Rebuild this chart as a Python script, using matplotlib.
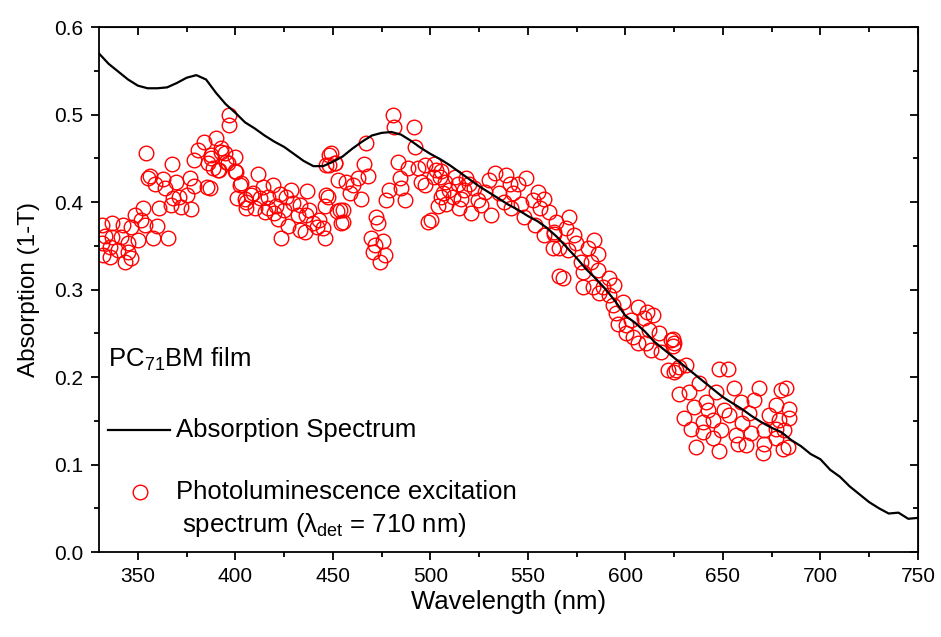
import numpy as np
import matplotlib.pyplot as plt
import matplotlib

matplotlib.rcParams['font.family'] = 'Liberation Sans'
matplotlib.rcParams['mathtext.fontset'] = 'custom'
matplotlib.rcParams['mathtext.rm'] = 'Liberation Sans'
matplotlib.rcParams['mathtext.it'] = 'Liberation Sans:italic'

# absorption spectrum (1-T), 5 nm steps
abs_wl = list(range(330, 751, 5))
abs_val = [0.570, 0.558, 0.549, 0.540, 0.533, 0.530, 0.530, 0.531, 0.536, 0.542,
           0.545, 0.540, 0.525, 0.512, 0.502, 0.491, 0.484, 0.476, 0.469, 0.463,
           0.455, 0.447, 0.441, 0.441, 0.446, 0.452, 0.461, 0.469, 0.476, 0.479,
           0.480, 0.477, 0.470, 0.462, 0.455, 0.449, 0.442, 0.434, 0.426, 0.418,
           0.411, 0.404, 0.397, 0.391, 0.384, 0.378, 0.370, 0.360, 0.348, 0.336,
           0.323, 0.312, 0.300, 0.286, 0.270, 0.262, 0.252, 0.240, 0.231, 0.222,
           0.213, 0.204, 0.195, 0.186, 0.177, 0.170, 0.163, 0.155, 0.148, 0.142,
           0.137, 0.128, 0.121, 0.112, 0.106, 0.094, 0.086, 0.075, 0.066, 0.057,
           0.050, 0.044, 0.045, 0.038, 0.039]

# photoluminescence excitation points
ple_wl = [331.4, 331.4, 332, 333, 335.6, 335.6, 336.7, 337, 339.7, 341.6, 342.3, 343.3,
          344.9, 344.9, 346.4, 346.7, 348.4, 350, 351.8, 352.5, 353.6, 354.4, 355, 356,
          357.7, 358.7, 360, 361, 362.8, 363.8, 365.3, 367, 367.4, 368, 369.8, 371, 372,
          375, 376.6, 377.5, 379, 379, 380.7, 384, 385.7, 385.8, 386.9, 387.7, 387.7,
          388.4, 390,
          391, 391.5, 392.8, 392.8, 394.5, 395.4, 396, 396.6, 397, 399.7, 400, 400.5, 401,
          402.2, 403, 404.8, 405.7, 405.7, 408.2, 409, 410, 411.5, 412.5, 414, 415, 416.6,
          416.6, 419.3, 420, 421, 421.8, 422.7, 423.6, 425, 426, 427, 428.7, 429.4, 432,
          433, 433, 435.5, 436.4, 437, 438, 439.6, 442, 443, 444.8, 445.8, 445.8, 446.6,
          446.6, 447.5, 448, 448,
          449, 450.9, 451, 452, 452.6, 453.5, 454.3, 455, 455, 456.9, 458.6, 460.3, 462.8,
          464.6, 466, 467, 468, 469.7, 470.5, 471.4, 472.3, 473, 474, 475.6, 476.5, 477.4,
          479, 480.8, 481.6, 483.3, 484.2, 485, 486.8, 488.4, 491.5, 491.9, 493.6, 495.3,
          497, 497, 498.7, 500.4, 502, 502, 503, 503.8, 504.7, 505.5,
          505.5, 506.4, 507.3, 508, 509.8, 511.5, 512.4, 514, 514.9, 515.8, 517.5, 518.3,
          520, 520.9, 522.6, 524.3, 526, 528, 530.3, 531.2, 532.9, 535.4, 538, 538.9,
          540.6, 541.4, 542.2, 544.8, 546.5, 548.2, 549.1, 552.5, 553.4, 555, 556, 558.5,
          558.5, 561, 562.7, 563.6, 563.6, 564.5, 566, 566.2,
          567.9, 569.6, 570.4, 571.3, 573.9, 574.7, 577.3, 578.1, 578.1, 580.7, 582.4,
          583.2, 584.1, 585.8, 585.8, 586.7, 588.4, 591.8, 591.8, 593.5, 594.3, 595.2,
          596, 598.6, 600.3, 600.3, 603, 603.7, 606.3, 606.3, 609.7, 610.6, 611, 612.3,
          613.1, 614, 617.4, 618.2, 621.6, 623.3, 624.2, 624.2, 625, 625, 626, 627.6,
          627.6, 630.2, 631, 632.8, 633.6, 635.3, 636.2, 637.9, 639.6, 639.6, 641.3,
          642.1, 644.7, 644.7, 646.4, 648.1, 648.1, 649, 650.7, 652.4, 653.3, 655.8,
          656.7, 657.5, 659.2, 660, 661.8, 663.5, 664.4, 666, 668.6, 670.3, 671.2, 671.2,
          673.7, 677.2, 677.2, 677.2, 678.9, 679.7, 680.6, 681.4, 682.3, 683.2, 684, 684]
ple_val = [0.374, 0.353, 0.339, 0.361, 0.349, 0.337, 0.376, 0.360, 0.345, 0.360, 0.374, 0.332,
           0.353, 0.343, 0.336, 0.372, 0.385, 0.357, 0.379, 0.393, 0.374, 0.456, 0.428, 0.430,
           0.359, 0.421, 0.373, 0.393, 0.426, 0.416, 0.359, 0.397, 0.443, 0.405, 0.423, 0.406, 0.394,
           0.408, 0.427, 0.392, 0.418, 0.448, 0.459, 0.469, 0.417, 0.445, 0.416, 0.454, 0.450,
           0.439, 0.473,
           0.437, 0.437, 0.457, 0.462, 0.456, 0.446, 0.445, 0.488, 0.499, 0.452, 0.435, 0.434, 0.405,
           0.419, 0.422, 0.403, 0.400, 0.393, 0.408, 0.410, 0.393, 0.432, 0.405, 0.417, 0.389, 0.406,
           0.393, 0.419, 0.387, 0.395, 0.381, 0.409, 0.359, 0.391, 0.406, 0.373, 0.414, 0.399, 0.385,
           0.397, 0.368, 0.366, 0.385, 0.413, 0.391, 0.376, 0.372, 0.379, 0.370, 0.395, 0.359, 0.442,
           0.408, 0.406, 0.454, 0.442,
           0.456, 0.445, 0.445, 0.390, 0.425, 0.391, 0.376, 0.391, 0.377, 0.423, 0.410, 0.419, 0.427,
           0.404, 0.444, 0.467, 0.430, 0.359, 0.343, 0.351, 0.383, 0.376, 0.332, 0.355, 0.339, 0.402,
           0.414, 0.499, 0.486, 0.446, 0.427, 0.416, 0.402, 0.439, 0.486, 0.463, 0.439, 0.423,
           0.442, 0.419, 0.377, 0.379, 0.444, 0.429, 0.437, 0.395, 0.429, 0.406,
           0.435, 0.410, 0.423, 0.398, 0.414, 0.406, 0.429, 0.421, 0.393, 0.404, 0.414, 0.427,
           0.421, 0.387, 0.416, 0.402, 0.397, 0.412, 0.425, 0.385, 0.433, 0.410, 0.400, 0.431,
           0.421, 0.393, 0.410, 0.421, 0.398, 0.383, 0.427, 0.402, 0.374, 0.412, 0.393, 0.404,
           0.362, 0.389, 0.347, 0.366, 0.364, 0.377, 0.315, 0.347,
           0.313, 0.370, 0.345, 0.383, 0.362, 0.353, 0.332, 0.320, 0.303, 0.347, 0.332,
           0.303, 0.357, 0.341, 0.322, 0.296, 0.303, 0.313, 0.294, 0.282, 0.305, 0.273,
           0.261, 0.286, 0.259, 0.250, 0.265, 0.246, 0.280, 0.239, 0.267, 0.239, 0.274, 0.254,
           0.231, 0.271, 0.250, 0.229, 0.208, 0.242, 0.235, 0.244, 0.206, 0.239, 0.208, 0.212,
           0.181, 0.153, 0.214, 0.183, 0.141, 0.166, 0.120, 0.193, 0.149, 0.137, 0.172,
           0.162, 0.151, 0.130, 0.183, 0.209, 0.115, 0.139, 0.162, 0.209, 0.157, 0.187,
           0.134, 0.124, 0.172, 0.147, 0.122, 0.159, 0.136, 0.174, 0.187, 0.113, 0.139, 0.124,
           0.157, 0.168, 0.141, 0.130, 0.151, 0.185, 0.118, 0.139, 0.187, 0.120, 0.163, 0.153]

fig = plt.figure(figsize=(9.41, 6.37), dpi=100)
ax = fig.add_axes([0.105, 0.1334, 0.8705, 0.8242])

ax.plot(ple_wl, ple_val, 'o', mfc='none', mec='red', ms=10.5, mew=1.0, zorder=2)
ax.plot(abs_wl, abs_val, color='black', lw=1.6, zorder=3)

ax.set_xlim(330, 750)
ax.set_ylim(0.0, 0.6)
ax.set_xticks(np.arange(350, 751, 50))
ax.set_xticks(np.arange(350, 751, 25), minor=True)
ax.set_yticks(np.arange(0.0, 0.61, 0.1))
ax.set_yticks(np.arange(0.0, 0.61, 0.05), minor=True)
ax.yaxis.set_major_formatter(matplotlib.ticker.FormatStrFormatter('%.1f'))
ax.tick_params(which='major', direction='out', length=6, width=1.3, labelsize=15, pad=5)
ax.tick_params(which='minor', direction='out', length=3.5, width=1.3)
for s in ax.spines.values():
    s.set_linewidth(1.3)

# mirrored ticks pointing inward on top and right
top = ax.secondary_xaxis('top')
top.set_xticks(np.arange(350, 751, 50))
top.set_xticks(np.arange(350, 751, 25), minor=True)
top.tick_params(which='both', direction='in', labeltop=False, width=1.3)
top.tick_params(which='major', length=6)
top.tick_params(which='minor', length=3.5)
right = ax.secondary_yaxis('right')
right.set_yticks(np.arange(0.0, 0.61, 0.1))
right.set_yticks(np.arange(0.0, 0.61, 0.05), minor=True)
right.tick_params(which='both', direction='in', labelright=False, width=1.3)
right.tick_params(which='major', length=6)
right.tick_params(which='minor', length=3.5)

ax.set_xlabel('Wavelength (nm)', fontsize=18.5, labelpad=3)
ax.set_ylabel('Absorption (1-T)', fontsize=17.5, labelpad=10)

# legend drawn by hand, as in the original
ax.text(0.011, 0.366, 'PC$_{71}$BM film', transform=ax.transAxes, fontsize=18.5, va='center')
ax.plot([0.011, 0.087], [0.232, 0.232], color='black', lw=1.6, transform=ax.transAxes)
ax.text(0.094, 0.232, 'Absorption Spectrum', transform=ax.transAxes, fontsize=18.5, va='center')
ax.plot([0.05], [0.114], 'o', mfc='none', mec='red', ms=10.5, mew=1.0, transform=ax.transAxes)
ax.text(0.094, 0.114, 'Photoluminescence excitation', transform=ax.transAxes, fontsize=18.5, va='center')
ax.text(0.101, 0.051, 'spectrum (λ$_{\\mathrm{det}}$ = 710 nm)', transform=ax.transAxes,
        fontsize=18.5, va='center')

plt.savefig('out.png', dpi=100)
